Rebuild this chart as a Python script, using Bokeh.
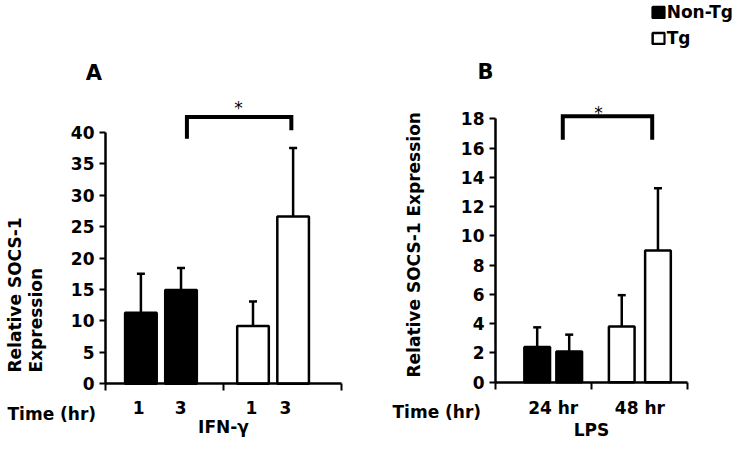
import numpy as np
from bokeh.plotting import figure
from bokeh.models import (Range1d, FixedTicker, ColumnDataSource, Whisker, TeeHead,
                          Label, Legend, LegendItem, CDSView, GroupFilter)
from bokeh.layouts import row
from bokeh.embed import file_html
from bokeh.resources import INLINE

# ---------------- data ----------------
genotypes = ["Non-Tg", "Tg"]

ifn_genotype = ["Non-Tg", "Non-Tg", "Tg", "Tg"]
ifn_time_labels = ["1", "3", "1", "3"]
ifn_mean = [11.3, 14.9, 9.2, 26.6]
ifn_err = [6.2, 3.5, 3.9, 10.9]
ifn_yticks = [0, 5, 10, 15, 20, 25, 30, 35, 40]

lps_genotype = ["Non-Tg", "Non-Tg", "Tg", "Tg"]
lps_time_labels = ["24 hr", "48 hr"]
lps_mean = [2.4, 2.1, 3.8, 9.0]
lps_err = [1.35, 1.15, 2.15, 4.25]
lps_yticks = [0, 2, 4, 6, 8, 10, 12, 14, 16, 18]

# ---------------- layout / style ----------------
FONT = "DejaVu Sans"
H = 439
fill_for = {"Non-Tg": "black", "Tg": "white"}

A_bar_x = [0.30, 0.64, 1.25, 1.59]
A_label_x = [0.28, 0.636, 1.237, 1.525]
B_bar_x = [0.435, 0.769, 1.317, 1.695]
B_label_x = [0.602, 1.506]
BAR_W = 0.268


class Panel:
    """Maps canvas pixels (used only to place annotations) to data units."""

    def __init__(self, left, width, ox, oy, sx, sy):
        self.left, self.width, self.ox, self.oy, self.sx, self.sy = left, width, ox, oy, sx, sy

    def x(self, px):
        return (px - self.ox) / self.sx

    def y(self, py):
        return (self.oy - py) / self.sy

    def figure(self):
        p = figure(width=self.width, height=H, title=None, output_backend="svg",
                   toolbar_location=None,
                   x_range=Range1d(self.x(self.left), self.x(self.left + self.width)),
                   y_range=Range1d(self.y(H), self.y(0)),
                   min_border=0)
        return p


def style_common(p, ybounds, yticks, xmajor, xlabels, xtitle, lab_standoff, title_standoff):
    p.outline_line_color = None
    p.xgrid.visible = False
    p.ygrid.visible = False
    p.background_fill_color = "white"
    p.border_fill_color = "white"

    y = p.yaxis[0]
    y.fixed_location = 0
    y.bounds = ybounds
    y.ticker = FixedTicker(ticks=yticks)
    y.axis_line_width = 2.5
    y.axis_line_color = "black"
    y.major_tick_line_width = 2
    y.major_tick_line_color = "black"
    y.major_tick_out = 6
    y.major_tick_in = 0
    y.minor_tick_line_color = None
    y.major_label_standoff = 5
    y.major_label_text_font = FONT
    y.major_label_text_font_style = "bold"
    y.major_label_text_font_size = "17px"
    y.major_label_text_color = "black"

    x = p.xaxis[0]
    x.fixed_location = 0
    x.bounds = (0, 2)
    x.ticker = FixedTicker(ticks=xmajor, minor_ticks=[0, 1, 2])
    x.axis_line_width = 2.5
    x.axis_line_color = "black"
    x.major_tick_out = 0
    x.major_tick_in = 0
    x.major_tick_line_color = None
    x.minor_tick_out = 7
    x.minor_tick_in = 0
    x.minor_tick_line_width = 2
    x.minor_tick_line_color = "black"
    x.major_label_overrides = {float(t): l for t, l in zip(xmajor, xlabels)}
    x.major_label_standoff = lab_standoff
    x.major_label_text_font = FONT
    x.major_label_text_font_style = "bold"
    x.major_label_text_font_size = "17px"
    x.major_label_text_color = "black"
    x.axis_label = xtitle
    x.axis_label_standoff = title_standoff
    x.axis_label_text_font = FONT
    x.axis_label_text_font_style = "bold"
    x.axis_label_text_font_size = "17px"
    x.axis_label_text_color = "black"


def add_bars(p, xs, means, errs, geno):
    src = ColumnDataSource(dict(x=xs, top=means, upper=[m + e for m, e in zip(means, errs)],
                                genotype=geno))
    rends = {}
    for g in genotypes:
        view = CDSView(filter=GroupFilter(column_name="genotype", group=g))
        rends[g] = p.vbar(x="x", top="top", bottom=0, width=BAR_W, source=src, view=view,
                          fill_color=fill_for[g], line_color="black", line_width=2.5)
    w = Whisker(source=src, base="x", lower="top", upper="upper", dimension="height",
                line_color="black", line_width=2.5,
                upper_head=TeeHead(size=8, line_color="black", line_width=2.5),
                lower_head=None)
    p.add_layout(w)
    return rends


def txt(p, x, y, text, size="17px", style="bold", align="left", baseline="alphabetic",
        angle=0.0, line_height=1.2):
    p.add_layout(Label(x=x, y=y, text=text, text_font=FONT, text_font_style=style,
                       text_font_size=size, text_color="black", text_align=align,
                       text_baseline=baseline, angle=angle, text_line_height=line_height))


# ================= Panel A =================
A = Panel(left=0, width=375, ox=105.0, oy=383.3, sx=118.0, sy=6.29)
pA = A.figure()
style_common(pA, (0, 40), ifn_yticks, A_label_x, ifn_time_labels, "IFN-\u03b3", 10, 0)
add_bars(pA, A_bar_x, ifn_mean, ifn_err, ifn_genotype)

# significance bracket (Non-Tg 3 hr vs Tg 3 hr)
pA.line(x=[0.69, 0.69, 1.575, 1.575], y=[38.95, 42.4, 42.4, 40.3], line_color="black",
        line_width=4, line_join="miter")
txt(pA, A.x(238), A.y(107), "*", size="17px", style="normal", align="center")
txt(pA, A.x(93.3), A.y(72.3), "A", size="21px", align="center")
txt(pA, A.x(7), A.y(413), "Time (hr)")
txt(pA, A.x(4), A.y(372), "Relative SOCS-1\nExpression", angle=np.pi / 2,
    baseline="top", line_height=1.08)

# ================= Panel B =================
B = Panel(left=375, width=360, ox=495.0, oy=381.7, sx=95.85, sy=14.63)
pB = B.figure()
style_common(pB, (0, 18), lps_yticks, B_label_x, lps_time_labels, "LPS", 9, -2)
rB = add_bars(pB, B_bar_x, lps_mean, lps_err, lps_genotype)

pB.line(x=[0.702, 0.702, 1.635, 1.635], y=[16.57, 18.18, 18.18, 16.57], line_color="black",
        line_width=4, line_join="miter")
txt(pB, B.x(598), B.y(112), "*", size="17px", style="normal", align="center")
txt(pB, B.x(485), B.y(71.7), "B", size="21px", align="center")
txt(pB, B.x(392), B.y(411.7), "Time (hr)")
txt(pB, B.x(403), B.y(377), "Relative SOCS-1 Expression", angle=np.pi / 2, baseline="top")

legend = Legend(items=[LegendItem(label=g, renderers=[rB[g]]) for g in genotypes],
                location="top_right", margin=2, padding=2, spacing=6,
                glyph_width=15, glyph_height=14, label_standoff=1,
                label_text_font=FONT, label_text_font_style="bold",
                label_text_font_size="17px", label_text_color="black",
                border_line_color=None, background_fill_alpha=0)
pB.add_layout(legend)

layout = row(pA, pB)
open("out.html", "w").write(file_html(layout, INLINE))
